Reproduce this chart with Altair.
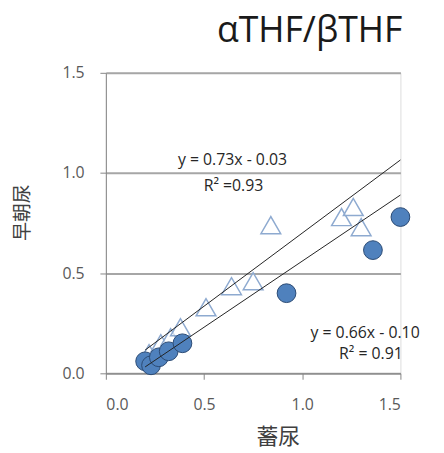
import altair as alt
import pandas as pd

# Filled circles (series 1)
circle_x = [0.20, 0.23, 0.27, 0.32, 0.39, 0.92, 1.36, 1.50]
circle_y = [0.06, 0.04, 0.08, 0.11, 0.15, 0.40, 0.615, 0.78]

# Open triangles (series 2)
tri_x = [0.22, 0.28, 0.33, 0.38, 0.51, 0.64, 0.75, 0.84, 1.20, 1.26, 1.30]
tri_y = [0.10, 0.15, 0.18, 0.23, 0.33, 0.435, 0.46, 0.74, 0.78, 0.83, 0.73]

# Trend lines: slope, intercept, x range
trend_names = ["tri", "circ"]
trend_slope = [0.73, 0.66]
trend_icpt = [-0.03, -0.10]
trend_xmin = [0.2, 0.2]
trend_xmax = [1.5, 1.5]

# Annotation texts and their anchor positions (data units)
ann_text = ["y = 0.73x - 0.03", "R\u00b2 =0.93", "y = 0.66x - 0.10", "R\u00b2 = 0.91"]
ann_x = [0.645, 0.65, 1.32, 1.35]
ann_y = [1.065, 0.935, 0.20, 0.095]

x_ticks = [0.0, 0.5, 1.0, 1.5]
y_ticks = [0.0, 0.5, 1.0, 1.5]

title_text = ["αTHF/βTHF"]

circ_df = pd.DataFrame({"x": circle_x, "y": circle_y})
tri_df = pd.DataFrame({"x": tri_x, "y": tri_y})
rows = []
for n, s, b, a0, a1 in zip(trend_names, trend_slope, trend_icpt, trend_xmin, trend_xmax):
    rows.append({"name": n, "x": a0, "y": s * a0 + b})
    rows.append({"name": n, "x": a1, "y": s * a1 + b})
line_df = pd.DataFrame(rows)
ann_df = pd.DataFrame({"t": ann_text, "x": ann_x, "y": ann_y})
title_df = pd.DataFrame({"t": title_text})

FONT = "Open Sans"
xs = alt.Scale(domain=[0, 1.5], nice=False, zero=False)
ys = alt.Scale(domain=[0, 1.5], nice=False, zero=False)

xax = alt.Axis(values=x_ticks, format=".1f", grid=False, title="蓄尿",
               titleFont="Noto Sans CJK JP", titleFontSize=22, titleFontWeight="normal",
               titleColor="#404040", titleX=174, titleY=64, titleBaseline="middle",
               labelFont=FONT, labelFontSize=16, labelColor="#595959", labelPadding=18,
               tickSize=6, tickColor="#868686", domainColor="#868686")
yax = alt.Axis(values=y_ticks, format=".1f", grid=True, gridColor="#A6A6A6", gridWidth=2,
               title="早朝尿", titleFont="Noto Sans CJK JP", titleFontSize=19,
               titleFontWeight="normal", titleColor="#404040", titleX=-84, titleY=141,
               titleBaseline="middle", titleAlign="center",
               labelFont=FONT, labelFontSize=16, labelColor="#595959", labelPadding=16,
               tickSize=6, tickColor="#868686", domainColor="#868686")

tri = alt.Chart(tri_df).mark_point(shape="triangle-up", size=400, filled=True,
                                   fill="#FFFFFF", fillOpacity=0.6,
                                   stroke="#8EAAD0", strokeWidth=1.5, opacity=1).encode(
    x=alt.X("x:Q", scale=xs, axis=xax),
    y=alt.Y("y:Q", scale=ys, axis=yax),
)
circ = alt.Chart(circ_df).mark_point(shape="circle", size=360, filled=True,
                                     fill="#4F81BD", stroke="#2A4A73", strokeWidth=1,
                                     opacity=1).encode(
    x=alt.X("x:Q", scale=xs),
    y=alt.Y("y:Q", scale=ys),
)
lines = alt.Chart(line_df).mark_line(color="#222222", strokeWidth=1).encode(
    x=alt.X("x:Q", scale=xs),
    y=alt.Y("y:Q", scale=ys),
    detail="name:N",
)
ann = alt.Chart(ann_df).mark_text(font=FONT, fontSize=16, color="#262626",
                                  align="center", baseline="middle").encode(
    x=alt.X("x:Q", scale=xs),
    y=alt.Y("y:Q", scale=ys),
    text="t:N",
)
title = alt.Chart(title_df).mark_text(font=FONT, fontSize=36, color="#1A1A1A",
                                      align="right", baseline="alphabetic").encode(
    x=alt.value(300),
    y=alt.value(-31),
    text="t:N",
)

chart = alt.layer(tri, circ, lines, ann, title).properties(
    width=298, height=304,
    autosize=alt.AutoSizeParams(type="none"),
    padding={"left": 99, "top": 63, "right": 36, "bottom": 76},
).configure_view(stroke=None).configure(background="white")

chart.save("out.html", embed_options={"renderer": "svg", "actions": False})
